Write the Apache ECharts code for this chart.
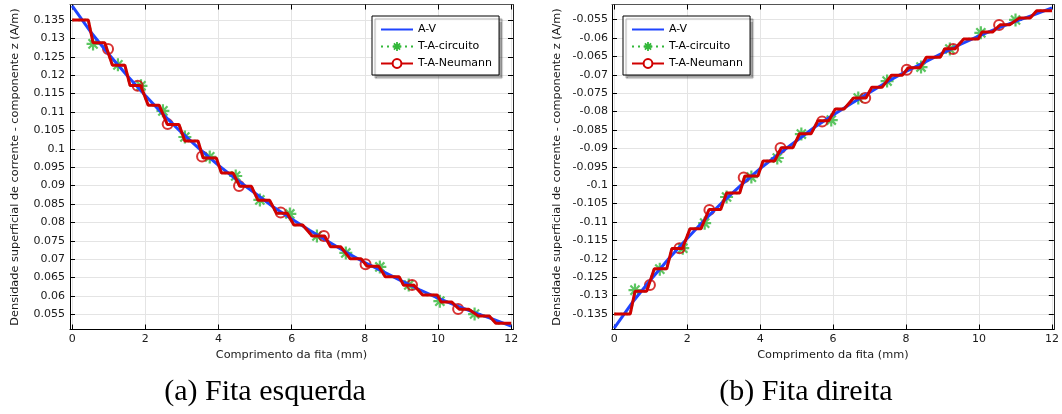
<!DOCTYPE html>
<html>
<head>
<meta charset="utf-8">
<script src="https://cdn.jsdelivr.net/npm/echarts@6/dist/echarts.min.js"></script>
<style>
  html, body { margin: 0; padding: 0; background: #fff; }
  #chart { width: 1062px; height: 414px; }
</style>
</head>
<body>
<div id="chart"></div>
<script>
// ---- tick values ----
const xTicks = [0, 2, 4, 6, 8, 10, 12];
const yTicksLeft = [0.055, 0.06, 0.065, 0.07, 0.075, 0.08, 0.085, 0.09, 0.095, 0.1,
  0.105, 0.11, 0.115, 0.12, 0.125, 0.13, 0.135];
const yTicksRight = [-0.135, -0.13, -0.125, -0.12, -0.115, -0.11, -0.105, -0.1, -0.095,
  -0.09, -0.085, -0.08, -0.075, -0.07, -0.065, -0.06, -0.055];

// ---- A-V solution along the tape width (mm) ----
const avX = [0, 0.5, 1, 1.5, 2, 2.5, 3, 3.5, 4, 4.5, 5, 5.5, 6, 6.5, 7, 7.5, 8, 8.5,
  9, 9.5, 10, 10.5, 11, 11.5, 12];
const avLeft = [0.1388, 0.1318, 0.1257, 0.1199, 0.1145, 0.1092, 0.1043, 0.0998, 0.0955,
  0.0916, 0.0879, 0.0842, 0.0809, 0.0778, 0.0748, 0.0718, 0.0691, 0.0666, 0.0641,
  0.0617, 0.0594, 0.0574, 0.0555, 0.0537, 0.0518];
const avRight = [-0.1388, -0.1318, -0.1257, -0.1199, -0.1145, -0.1092, -0.1043, -0.0998,
  -0.0955, -0.0916, -0.0879, -0.0842, -0.0809, -0.0778, -0.0748, -0.0718, -0.0691,
  -0.0666, -0.0641, -0.0617, -0.0594, -0.0574, -0.0555, -0.0537, -0.0518];

// ---- T-A element plateaus: start / end of each flat part (mm) ----
const stepStart = [0, 0.57, 1.10, 1.58, 2.08, 2.60, 3.08, 3.58, 4.08, 4.58, 5.08, 5.58,
  6.06, 6.56, 7.06, 7.60, 8.06, 8.56, 9.06, 9.58, 10.08, 10.58, 11.10, 11.58];
const stepEnd = [0.44, 0.89, 1.44, 1.87, 2.38, 2.92, 3.44, 3.94, 4.40, 4.90, 5.40, 5.88,
  6.30, 6.90, 7.34, 7.90, 8.38, 8.94, 9.34, 9.98, 10.37, 10.84, 11.40, 12.0];

// plateau levels per element
const circuitoLeft = [0.1350, 0.1288, 0.1227, 0.1172, 0.1118, 0.1066, 0.1021, 0.0975,
  0.0934, 0.0898, 0.0860, 0.0825, 0.0793, 0.0763, 0.0734, 0.0701, 0.0681, 0.0652,
  0.0629, 0.0603, 0.0584, 0.0564, 0.0546, 0.0526];
const neumannLeft = [0.1350, 0.1288, 0.1227, 0.1172, 0.1118, 0.1066, 0.1021, 0.0975,
  0.0934, 0.0898, 0.0860, 0.0825, 0.0793, 0.0763, 0.0734, 0.0701, 0.0681, 0.0652,
  0.0629, 0.0603, 0.0584, 0.0564, 0.0546, 0.0526];
const circuitoRight = [-0.1350, -0.1288, -0.1227, -0.1172, -0.1118, -0.1066, -0.1021,
  -0.0975, -0.0934, -0.0898, -0.0860, -0.0825, -0.0793, -0.0763, -0.0734, -0.0701,
  -0.0681, -0.0652, -0.0629, -0.0603, -0.0584, -0.0564, -0.0546, -0.0526];
const neumannRight = [-0.1350, -0.1288, -0.1227, -0.1172, -0.1118, -0.1066, -0.1021,
  -0.0975, -0.0934, -0.0898, -0.0860, -0.0825, -0.0793, -0.0763, -0.0734, -0.0701,
  -0.0681, -0.0652, -0.0629, -0.0603, -0.0584, -0.0564, -0.0546, -0.0526];

// ---- marker positions ----
const circuitoMarkX = [0.57, 1.25, 1.88, 2.48, 3.08, 3.76, 4.47, 5.13, 5.95, 6.69, 7.48,
  8.41, 9.2, 10.05, 11.0];
const circuitoMarkLeft = [0.1285, 0.1228, 0.1171, 0.1103, 0.1032, 0.0978, 0.0926, 0.0861,
  0.0823, 0.0763, 0.0717, 0.0679, 0.0630, 0.0586, 0.0551];
const circuitoMarkRight = [-0.1285, -0.1228, -0.1171, -0.1103, -0.1032, -0.0978, -0.0926,
  -0.0861, -0.0823, -0.0763, -0.0717, -0.0679, -0.0630, -0.0586, -0.0551];
const neumannMarkX = [0.98, 1.79, 2.61, 3.55, 4.56, 5.70, 6.88, 8.02, 9.29, 10.55];
const neumannMarkLeft = [0.1271, 0.1171, 0.1067, 0.0979, 0.0899, 0.0827, 0.0763, 0.0686,
  0.0630, 0.0565];
const neumannMarkRight = [-0.1271, -0.1171, -0.1067, -0.0979, -0.0899, -0.0827, -0.0763,
  -0.0686, -0.0630, -0.0565];

const captions = ['(a) Fita esquerda', '(b) Fita direita'];
const xTitle = 'Comprimento da fita (mm)';
const yTitle = 'Densidade superficial de corrente - componente z (A/m)';
const names = ['A-V', 'T-A-circuito', 'T-A-Neumann'];

// ---- styling ----
const BLUE = '#1f44ff';
const GREEN = '#33b83a';
const RED = '#d00000';
const FONT = 'DejaVu Sans';
// asterisk marker: vertical, horizontal and two diagonal strokes
const STAR = 'path://M10,0 L10,20 M0,10 L20,10 M3,3 L17,17 M3,17 L17,3';

function pairs(xs, ys) { return xs.map((x, i) => [x, ys[i]]); }
function staircase(levels) {
  const pts = [];
  levels.forEach((v, i) => { pts.push([stepStart[i], v]); pts.push([stepEnd[i], v]); });
  return pts;
}

const panels = [
  { grid: { left: 70, top: 4.5, width: 443, height: 325 }, yMin: 0.0509, yMax: 0.1392,
    yTicks: yTicksLeft, av: avLeft, circ: circuitoLeft, neu: neumannLeft,
    circM: circuitoMarkLeft, neuM: neumannMarkLeft, legendLeft: 372, labelMargin: 5,
    caption: captions[0], captionX: 265 },
  { grid: { left: 612, top: 4.5, width: 444, height: 325 }, yMin: -0.1392, yMax: -0.0509,
    yTicks: yTicksRight, av: avRight, circ: circuitoRight, neu: neumannRight,
    circM: circuitoMarkRight, neuM: neumannMarkRight, legendLeft: 623, labelMargin: 4,
    caption: captions[1], captionX: 806 }
];

const labelFmt = v => String(+(+v).toFixed(4));
const option = {
  animation: false,
  backgroundColor: '#fff',
  grid: [], xAxis: [], yAxis: [], series: [], legend: [], graphic: []
};

panels.forEach((p, i) => {
  option.grid.push(p.grid);
  const xBase = { gridIndex: i, type: 'value', min: -0.06, max: 12.05 };
  const yBase = { gridIndex: i, type: 'value', min: p.yMin, max: p.yMax };
  option.xAxis.push(Object.assign({}, xBase, {
    position: 'bottom', name: xTitle, nameLocation: 'middle', nameGap: 15,
    nameTextStyle: { fontFamily: FONT, fontSize: 11.3, color: '#1a1a1a' },
    axisLine: { show: true, onZero: false, lineStyle: { color: '#000', width: 1 } },
    axisTick: { show: true, inside: true, length: 5, customValues: xTicks, lineStyle: { color: '#000' } },
    axisLabel: { customValues: xTicks, margin: 4, fontFamily: FONT, fontSize: 11, color: '#1a1a1a', formatter: labelFmt },
    splitLine: { show: true, lineStyle: { color: '#e4e4e4', width: 1 } }
  }));
  option.xAxis.push(Object.assign({}, xBase, {
    position: 'top',
    axisLine: { show: true, onZero: false, lineStyle: { color: '#555', width: 1 } },
    axisTick: { show: true, inside: true, length: 5, customValues: xTicks, lineStyle: { color: '#000' } },
    axisLabel: { show: false }, splitLine: { show: false }
  }));
  option.yAxis.push(Object.assign({}, yBase, {
    position: 'left', name: yTitle, nameLocation: 'middle', nameGap: 49,
    nameTextStyle: { fontFamily: FONT, fontSize: 11.3, color: '#1a1a1a' },
    axisLine: { show: true, onZero: false, lineStyle: { color: '#000', width: 1 } },
    axisTick: { show: true, inside: true, length: 5, customValues: p.yTicks, lineStyle: { color: '#000' } },
    axisLabel: { customValues: p.yTicks, margin: p.labelMargin, fontFamily: FONT, fontSize: 11, color: '#1a1a1a', formatter: labelFmt },
    splitLine: { show: true, lineStyle: { color: '#e4e4e4', width: 1 } }
  }));
  option.yAxis.push(Object.assign({}, yBase, {
    position: 'right',
    axisLine: { show: true, onZero: false, lineStyle: { color: '#222', width: 1 } },
    axisTick: { show: true, inside: true, length: 5, customValues: p.yTicks, lineStyle: { color: '#000' } },
    axisLabel: { show: false }, splitLine: { show: false }
  }));

  const ax = { xAxisIndex: i * 2, yAxisIndex: i * 2 };
  option.series.push(Object.assign({
    name: names[0], type: 'line', symbol: 'none', data: pairs(avX, p.av),
    lineStyle: { color: BLUE, width: 3 }, itemStyle: { color: BLUE }
  }, ax));
  option.series.push(Object.assign({
    name: names[1], type: 'line', symbol: STAR, showSymbol: false, data: staircase(p.circ),
    lineStyle: { color: GREEN, width: 2.5, type: [2, 4] },
    itemStyle: { color: GREEN, borderColor: GREEN, borderWidth: 1.8 }
  }, ax));
  option.series.push(Object.assign({
    name: names[1], type: 'scatter', symbol: STAR, symbolSize: 13,
    data: pairs(circuitoMarkX, p.circM),
    itemStyle: { color: GREEN, borderColor: GREEN, borderWidth: 2.2 }
  }, ax));
  option.series.push(Object.assign({
    name: names[2], type: 'line', symbol: 'emptyCircle', showSymbol: false, data: staircase(p.neu),
    lineStyle: { color: RED, width: 3 }, itemStyle: { color: RED }
  }, ax));
  option.series.push(Object.assign({
    name: names[2], type: 'scatter', symbol: 'circle', symbolSize: 10,
    data: pairs(neumannMarkX, p.neuM),
    itemStyle: { color: 'rgba(255,255,255,0)', borderColor: RED, borderWidth: 2 }
  }, ax));

  option.legend.push({
    orient: 'vertical', left: p.legendLeft, top: 16,
    padding: [8, 7, 6, 8], itemGap: 6, itemWidth: 32, itemHeight: 11,
    backgroundColor: '#fff', borderColor: '#000', borderWidth: 1,
    shadowColor: 'rgba(0,0,0,0.35)', shadowBlur: 1, shadowOffsetX: 3, shadowOffsetY: 3,
    selectedMode: false,
    textStyle: { fontFamily: FONT, fontSize: 11, color: '#000' },
    data: [
      { name: names[0], itemStyle: { opacity: 0 } },
      { name: names[1], itemStyle: { color: GREEN, borderColor: GREEN, borderWidth: 1.8 } },
      { name: names[2] }
    ]
  });

  option.graphic.push({
    type: 'text', x: p.captionX, y: 392,
    style: { text: p.caption, align: 'center', verticalAlign: 'middle',
      font: '30px "Liberation Serif"', fill: '#000' }
  });
});

const chart = echarts.init(document.getElementById('chart'), null, { renderer: 'canvas' });
chart.setOption(option);
</script>
</body>
</html>
